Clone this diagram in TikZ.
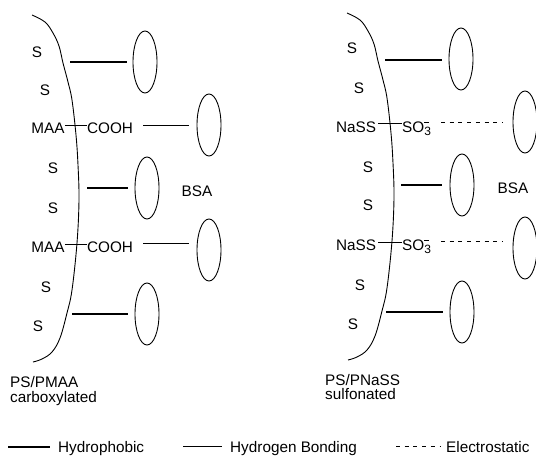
\documentclass[tikz,border=0pt]{standalone}
\usepackage{fontspec}
\setmainfont{Liberation Sans}
\usetikzlibrary{shapes.geometric}
\begin{document}
\begin{tikzpicture}[x=1pt,y=-1pt,
  lbl/.style={font=\fontsize{15.3}{18}\selectfont, inner sep=0pt},
  bsa/.style={draw, ellipse, line width=0.9pt, minimum width=24pt, minimum height=62pt, inner sep=0pt},
  hydrophobic/.style={line width=2.8pt},
  hbond/.style={line width=0.8pt},
  electro/.style={line width=0.8pt, dash pattern=on 4pt off 4.7pt},
  surface/.style={line width=0.9pt},
  surfacepath/.style={insert path={plot[smooth, tension=0.6] coordinates {(32,15) (45,22) (53,33) (59,46) (63,63) (68,82) (72,100) (76,135) (78,165) (79,200) (77,243) (72,290) (67,313) (60,338) (52,352) (42,359) (33,362)}}},
]
\useasboundingbox (0,0) rectangle (536,456);

% ---------- carboxylated latex particle ----------
\draw[surface, surfacepath];

\node[lbl] (ls1) at (37,52) {S};
\node[lbl] (ls2) at (45,90) {S};
\node[lbl] (maa1) at (48,128) {MAA};
\node[lbl] (cooh1) at (110,128) {COOH};
\node[lbl] (ls3) at (53,168) {S};
\node[lbl] (ls4) at (53,208) {S};
\node[lbl] (maa2) at (48,247) {MAA};
\node[lbl] (cooh2) at (110,247) {COOH};
\node[lbl] (ls5) at (46,287) {S};
\node[lbl] (ls6) at (38,326) {S};

\node[bsa] (le1) at (145,62) {};
\node[bsa] (le2) at (147,188) {};
\node[bsa] (le3) at (147,314) {};
\node[bsa] (lf1) at (209,125) {};
\node[bsa] (lf2) at (209,250) {};
\node[lbl] (lbsa) at (197,191) {BSA};

% hydrophobic contacts
\coordinate (lh1) at (70,62);
\coordinate (lh2) at (87,188);
\coordinate (lh3) at (72,314);
\draw[hydrophobic, shorten >=6pt] (lh1) -- (le1.west);
\draw[hydrophobic, shorten >=7pt] (lh2) -- (le2.west);
\draw[hydrophobic, shorten >=7pt] (lh3) -- (le3.west);

% hydrogen bonds
\draw[hbond] ([yshift=2.5pt]maa1.east) -- ([yshift=2.5pt]cooh1.west);
\draw[hbond] ([yshift=3pt]maa2.east) -- ([yshift=3pt]cooh2.west);
\coordinate (lc1) at ([yshift=3pt]cooh1.east);
\coordinate (lc2) at ([yshift=3.5pt]cooh2.east);
\draw[hbond, shorten <=10pt, shorten >=8pt] (lc1) -- (lc1 -| lf1.west);
\draw[hbond, shorten <=10pt, shorten >=8pt] (lc2) -- (lc2 -| lf2.west);

\node[lbl, anchor=base west] (lcap1) at (10,387) {PS/PMAA};
\node[lbl, anchor=base west] (lcap2) at (10,402) {carboxylated};

% ---------- sulfonated latex particle ----------
\begin{scope}[shift={(315,-2)}]
\draw[surface, surfacepath];
\end{scope}

\node[lbl] (rs1) at (352,48) {S};
\node[lbl] (rs2) at (359,88) {S};
\node[lbl] (nass1) at (356,127) {NaSS};
\node[lbl, anchor=base west] (so1) at (402,132.4) {SO\rlap{\raisebox{9pt}{\rule{4.5pt}{1pt}}}\raisebox{-3.3pt}{\fontsize{12}{12}\selectfont 3}};
\node[lbl] (rs3) at (368,167) {S};
\node[lbl] (rs4) at (368,205) {S};
\node[lbl] (nass2) at (356,245) {NaSS};
\node[lbl, anchor=base west] (so2) at (402,250.4) {SO\rlap{\raisebox{9pt}{\rule{4.5pt}{1pt}}}\raisebox{-3.3pt}{\fontsize{12}{12}\selectfont 3}};
\node[lbl] (rs5) at (360,285) {S};
\node[lbl] (rs6) at (353,324) {S};

\node[bsa] (re1) at (461,59) {};
\node[bsa] (re2) at (462,185) {};
\node[bsa] (re3) at (462,312) {};
\node[bsa] (rf1) at (525,122) {};
\node[bsa] (rf2) at (525,248) {};
\node[lbl] (rbsa) at (513,188) {BSA};

% hydrophobic contacts
\coordinate (rh1) at (385,60);
\coordinate (rh2) at (401,185);
\coordinate (rh3) at (386,312);
\draw[hydrophobic, shorten >=7pt] (rh1) -- (rh1 -| re1.west);
\draw[hydrophobic, shorten >=8pt] (rh2) -- (rh2 -| re2.west);
\draw[hydrophobic, shorten >=7pt] (rh3) -- (rh3 -| re3.west);

% sulfonate groups and electrostatic attraction
\coordinate (rn1) at ([yshift=4pt]nass1.east);
\coordinate (rn2) at ([yshift=3pt]nass2.east);
\draw[hbond, shorten <=2pt] (rn1) -- (rn1 -| so1.west);
\draw[hbond, shorten <=2pt] (rn2) -- (rn2 -| so2.west);
\coordinate (re1s) at (441,122);
\coordinate (re2s) at (441,241);
\draw[electro, shorten >=10pt] (re1s) -- (re1s -| rf1.west);
\draw[electro, shorten >=10pt] (re2s) -- (re2s -| rf2.west);

\node[lbl, anchor=base west] (rcap1) at (325,385) {PS/PNaSS};
\node[lbl, anchor=base west] (rcap2) at (325,399) {sulfonated};

% ---------- legend ----------
\node[lbl, anchor=base west] (kh) at (58,452.5) {Hydrophobic};
\node[lbl, anchor=base west] (kb) at (230,452.5) {Hydrogen Bonding};
\node[lbl, anchor=base west] (ke) at (446,452.5) {Electrostatic};
\coordinate (kh0) at (8,447);
\coordinate (kb0) at (183,446);
\coordinate (ke0) at (396,446);
\draw[hydrophobic, shorten >=8pt] (kh0) -- (kh0 -| kh.west);
\draw[hbond, shorten >=8pt] (kb0) -- (kb0 -| kb.west);
\draw[electro, shorten >=5pt] (ke0) -- (ke0 -| ke.west);
\end{tikzpicture}
\end{document}
